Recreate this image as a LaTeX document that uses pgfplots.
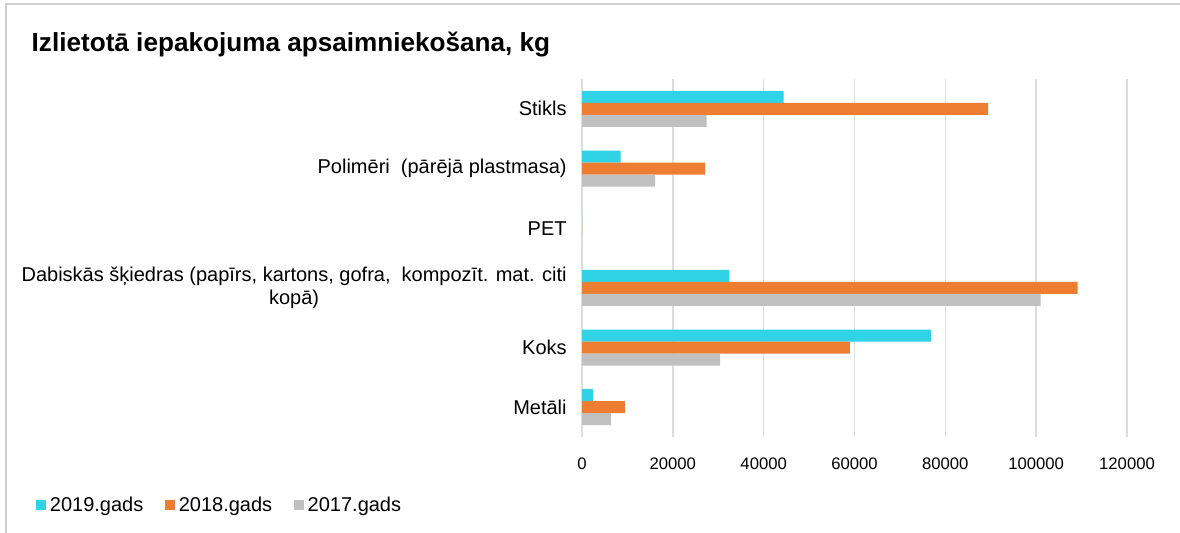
\documentclass[border=0pt]{standalone}
\usepackage{pgfplots}
\pgfplotsset{compat=1.18}
\usepackage{fontspec}
\setmainfont{Liberation Sans}

\definecolor{c2019}{HTML}{30D2E5}
\definecolor{c2018}{HTML}{ED7D31}
\definecolor{c2017}{HTML}{BFC0BF}
\definecolor{gridc}{HTML}{DDDDDD}
\definecolor{framec}{HTML}{CFCFCF}

% 1px of the reference = 0.75pt
\def\px{0.75pt}

\begin{document}
\begin{tikzpicture}
\begin{scope}[x=\px,y=\px]
\useasboundingbox (0,0) rectangle (1180,-532);
\fill[white] (0,0) rectangle (1180,-532);
\draw[framec, line width=1.5pt] (6,-540) -- (6,-4) -- (1190,-4);
\node[anchor=west, font=\fontsize{19.6}{22}\selectfont\bfseries] at (27,-45)
  {Izlietotā iepakojuma apsaimniekošana, kg};
\end{scope}

\begin{axis}[
    at={(436.5pt,-327.75pt)}, anchor=south west,
    scale only axis,
    width=408.75pt, height=268.5pt,
    xbar, bar width=9pt,
    xmin=0, xmax=120000,
    ymin=-0.5, ymax=5.5,
    y dir=reverse,
    xtick={0,20000,...,120000},
    ytick={0,1,2,3,4,5},
    yticklabels={Stikls, {Polimēri\ \ (pārējā plastmasa)}, PET,
      {Dabiskās šķiedras (papīrs, kartons, gofra,\ \ kompozīt. mat. citi\\kopā)},
      Koks, Metāli},
    yticklabel style={align=center, font=\fontsize{15}{17}\selectfont, xshift=-8pt},
    xticklabel style={font=\fontsize{12.5}{14.5}\selectfont, yshift=-12pt},
    /pgf/number format/assume math mode=true,
    scaled x ticks=false,
    xticklabel={\pgfmathprintnumber[fixed,1000 sep={}]{\tick}},
    axis line style={draw=none},
    major tick length=0pt,
    xmajorgrids=true,
    grid style={gridc, line width=1.2pt},
    legend columns=-1,
    legend style={at={(axis description cs:-1.01,-0.19)}, anchor=west,
      draw=none, fill=none, font=\fontsize{15}{17}\selectfont,
      /tikz/every odd column/.append style={column sep=1pt},
      /tikz/every even column/.append style={column sep=14pt}},
    legend image code/.code={\fill[#1] (0pt,-3.8pt) rectangle (7.6pt,3.8pt);},
]
\addplot[fill=c2019, draw=none, bar shift=9pt] coordinates {
  (44400,0) (8500,1) (0,2) (32450,3) (76800,4) (2400,5)};
\addplot[fill=c2018, draw=none, bar shift=0pt] coordinates {
  (89400,0) (27100,1) (0,2) (109100,3) (59000,4) (9450,5)};
\addplot[fill=c2017, draw=none, bar shift=-9pt] coordinates {
  (27450,0) (16100,1) (0,2) (101000,3) (30400,4) (6350,5)};
\legend{2019.gads, 2018.gads, 2017.gads}
\end{axis}
\end{tikzpicture}
\end{document}
